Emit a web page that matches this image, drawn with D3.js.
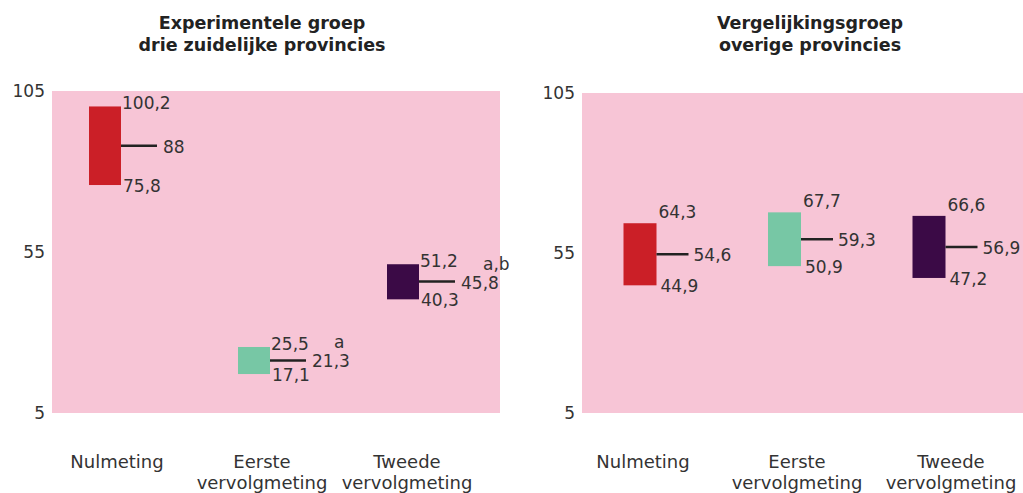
<!DOCTYPE html>
<html>
<head>
<meta charset="utf-8">
<script src="https://cdn.jsdelivr.net/npm/d3@7"></script>
<style>
  body { margin: 0; background: #fff; }
  text { font-family: "DejaVu Sans", Verdana, sans-serif; fill: #333; }
</style>
</head>
<body>
<div id="chart"></div>
<script>
// categories and axis
const categories = ["Nulmeting", "Eerste vervolgmeting", "Tweede vervolgmeting"];
const categoryLines = [["Nulmeting"], ["Eerste", "vervolgmeting"], ["Tweede", "vervolgmeting"]];
const yTicks = [5, 55, 105];
const barColors = ["#cb1f27", "#77c7a5", "#3b0a46"];

// experimentele groep (drie zuidelijke provincies)
const expTitle = ["Experimentele groep", "drie zuidelijke provincies"];
const expLow = [75.8, 17.1, 40.3];
const expMean = [88, 21.3, 45.8];
const expHigh = [100.2, 25.5, 51.2];
const expSig = ["", "a", "a,b"];

// vergelijkingsgroep (overige provincies)
const cmpTitle = ["Vergelijkingsgroep", "overige provincies"];
const cmpLow = [44.9, 50.9, 47.2];
const cmpMean = [54.6, 59.3, 56.9];
const cmpHigh = [64.3, 67.7, 66.6];
const cmpSig = ["", "", ""];

const fmt = v => String(v).replace(".", ",");

var svg = d3.select("#chart")
    .append("svg")
    .attr("width", 1023)
    .attr("height", 493);

function drawPanel(opt) {
    var g = svg.append("g");

    // y scale fills the pink plot area
    var y = d3.scaleLinear()
        .domain([5, 105])
        .range([opt.bottom, opt.top]);

    // bar positions and category label positions
    var xBar = d3.scalePoint().domain(categories).range(opt.barRange);
    var xLab = d3.scalePoint().domain(categories).range(opt.labelRange);

    // background
    g.append("rect")
        .attr("x", opt.left)
        .attr("y", y(105))
        .attr("width", opt.right - opt.left)
        .attr("height", y(5) - y(105))
        .attr("fill", "#f7c5d6");

    // title
    g.append("text")
        .attr("x", opt.titleX)
        .attr("y", 29)
        .attr("text-anchor", "middle")
        .style("font-weight", "bold")
        .style("font-size", "17.5px")
        .style("fill", "#222")
        .selectAll("tspan")
        .data(opt.title)
        .enter()
        .append("tspan")
        .attr("x", opt.titleX)
        .attr("dy", (d, i) => i ? 22 : 0)
        .text(d => d);

    // y axis labels only
    g.selectAll(".ytick")
        .data(yTicks)
        .enter()
        .append("text")
        .attr("x", opt.tickX)
        .attr("y", d => y(d))
        .attr("dy", "0.35em")
        .attr("text-anchor", "end")
        .style("font-size", "17px")
        .text(d => d);

    // category labels
    var cl = g.selectAll(".cat")
        .data(categories)
        .enter()
        .append("text")
        .attr("text-anchor", "middle")
        .style("font-size", "18px")
        .attr("y", 468);
    cl.selectAll("tspan")
        .data((d, i) => categoryLines[i].map(t => ({ t: t, c: d })))
        .enter()
        .append("tspan")
        .attr("x", d => xLab(d.c))
        .attr("dy", (d, i) => i ? 21 : 0)
        .text(d => d.t);

    var rows = categories.map((c, i) => ({
        cat: c, low: opt.low[i], mean: opt.mean[i], high: opt.high[i],
        sig: opt.sig[i], color: barColors[i]
    }));
    var bw = opt.barWidth;
    var x0 = d => xBar(d.cat) - bw / 2;
    var x1 = d => xBar(d.cat) + bw / 2;

    // bars low-high
    g.selectAll(".bar")
        .data(rows)
        .enter()
        .append("rect")
        .attr("x", x0)
        .attr("y", d => y(d.high))
        .attr("width", bw)
        .attr("height", d => y(d.low) - y(d.high))
        .attr("fill", d => d.color);

    // mean lines
    g.selectAll(".mean")
        .data(rows)
        .enter()
        .append("line")
        .attr("x1", x1)
        .attr("x2", d => x1(d) + opt.meanLen)
        .attr("y1", d => y(d.mean))
        .attr("y2", d => y(d.mean))
        .attr("stroke", "#222")
        .attr("stroke-width", 2.5);

    // value labels
    var lab = g.selectAll(".vals")
        .data(rows)
        .enter()
        .append("g");
    lab.append("text")
        .attr("x", d => x1(d) + opt.highDx)
        .attr("y", d => y(d.high) + opt.highDy)
        .attr("dy", "0.35em")
        .style("font-size", "17px")
        .text(d => fmt(d.high));
    lab.append("text")
        .attr("x", d => x1(d) + opt.lowDx)
        .attr("y", d => y(d.low) + 1)
        .attr("dy", "0.35em")
        .style("font-size", "17px")
        .text(d => fmt(d.low));
    lab.append("text")
        .attr("x", d => x1(d) + opt.meanLen + opt.meanGap)
        .attr("y", d => y(d.mean) + 1)
        .attr("dy", "0.35em")
        .style("font-size", "17px")
        .text(d => fmt(d.mean));
    // significance markers
    lab.append("text")
        .attr("x", d => x1(d) + 64)
        .attr("y", d => y(d.mean) - 18)
        .attr("dy", "0.35em")
        .style("font-size", "17px")
        .text(d => d.sig);
}

drawPanel({
    title: expTitle, low: expLow, mean: expMean, high: expHigh, sig: expSig,
    left: 52, right: 500, top: 91, bottom: 413,
    barRange: [105, 403], labelRange: [117, 407], barWidth: 32,
    titleX: 262, tickX: 45, highDx: 1, highDy: -3, lowDx: 2,
    meanLen: 36, meanGap: 6
});

drawPanel({
    title: cmpTitle, low: cmpLow, mean: cmpMean, high: cmpHigh, sig: cmpSig,
    left: 582, right: 1023, top: 93, bottom: 413,
    barRange: [640, 929], labelRange: [643, 951], barWidth: 33,
    titleX: 810, tickX: 575, highDx: 2, highDy: -11, lowDx: 4,
    meanLen: 32, meanGap: 5
});
</script>
</body>
</html>
